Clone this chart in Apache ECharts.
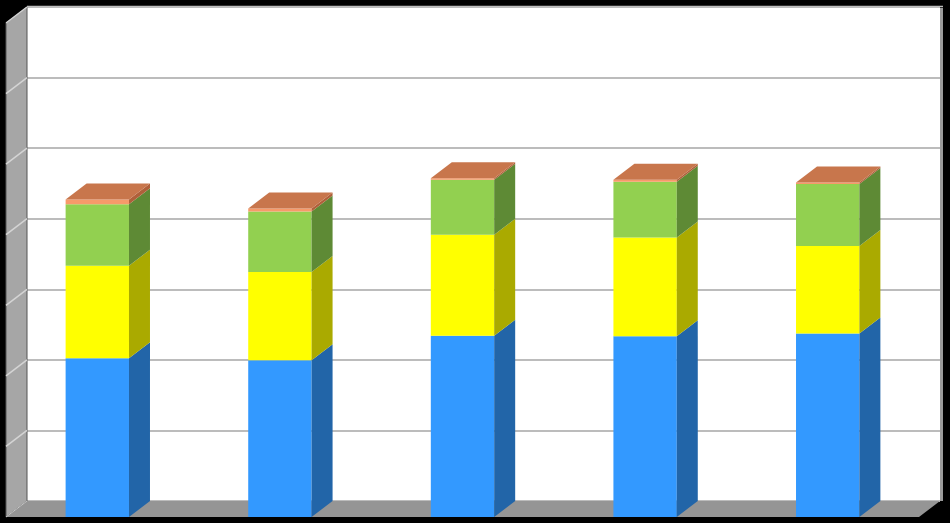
<!DOCTYPE html>
<html>
<head>
<meta charset="utf-8">
<script src="https://cdn.jsdelivr.net/npm/echarts@6/dist/echarts.min.js"></script>
<style>
  html, body { margin: 0; padding: 0; background: #000; }
  #main { width: 950px; height: 523px; }
</style>
</head>
<body>
<div id="main"></div>
<script>
// 数据
const categories = ['1', '2', '3', '4', '5'];
const blueVals = [2.25, 2.22, 2.57, 2.56, 2.60];
const yellowVals = [1.31, 1.25, 1.43, 1.40, 1.24];
const greenVals = [0.87, 0.86, 0.78, 0.79, 0.88];
const orangeVals = [0.07, 0.04, 0.02, 0.03, 0.02];
const yTicks = [0, 1, 2, 3, 4, 5, 6, 7];

// 3D 偏移
const DX = 21, DY = -16;

const layers = [
  { name: 'A', vals: blueVals, front: '#3399ff', side: '#2265a8', top: '#2a80d8' },
  { name: 'B', vals: yellowVals, front: '#ffff00', side: '#aaaa00', top: '#d8d800' },
  { name: 'C', vals: greenVals, front: '#92d050', side: '#5e8a35', top: '#78b040' },
  { name: 'D', vals: orangeVals, front: '#f79a6a', side: '#b0603a', top: '#c8764c' }
];

// 累加求堆叠的底和顶
const base = categories.map(() => 0);
const series = [];
layers.forEach((ly, li) => {
  const data = ly.vals.map((v, i) => {
    const b = base[i];
    base[i] = b + v;
    return [i, b, b + v];
  });
  const isTop = li === layers.length - 1;
  series.push({
    type: 'custom',
    name: ly.name,
    xAxisIndex: 1,
    yAxisIndex: 1,
    z: 3,
    data: data,
    renderItem: (params, api) => {
      const p0 = api.coord([api.value(0), api.value(1)]);
      const p1 = api.coord([api.value(0), api.value(2)]);
      const w = api.size([1, 0])[0] * 0.347;
      const xl = p0[0] - w / 2, xr = p0[0] + w / 2;
      const children = [
        { type: 'rect', shape: { x: xl, y: p1[1], width: w, height: p0[1] - p1[1] }, style: { fill: ly.front } },
        { type: 'polygon', shape: { points: [[xr, p1[1]], [xr + DX, p1[1] + DY], [xr + DX, p0[1] + DY], [xr, p0[1]]] }, style: { fill: ly.side } }
      ];
      if (isTop) {
        children.push({ type: 'polygon', shape: { points: [[xl, p1[1]], [xl + DX, p1[1] + DY], [xr + DX, p1[1] + DY], [xr, p1[1]]] }, style: { fill: ly.top } });
      }
      return { type: 'group', children: children };
    }
  });
});

// 背墙/地板/侧墙
const backL = 27, backR = 940, backT = 7, backB = 501;
const frontL = backL - DX, frontB = backB - DY, frontR = backR - DX;
const step = (backB - backT) / (yTicks.length - 1);
const graphics = [
  { type: 'polygon', z: 1, shape: { points: [[frontL, backT - DY], [backL, backT], [backL, backB], [frontL, frontB]] }, style: { fill: '#a6a6a6', stroke: '#555', lineWidth: 1 } },
  { type: 'polygon', z: 1, shape: { points: [[backL, backB], [backR, backB], [frontR, frontB], [frontL, frontB]] }, style: { fill: '#959595' } },
  { type: 'line', z: 1, shape: { x1: frontL, y1: frontB, x2: backL, y2: backB }, style: { stroke: '#c8c8c8', lineWidth: 1 } },
  { type: 'line', z: 1, shape: { x1: backR + 1.5, y1: backT + 1, x2: backR + 1.5, y2: backB }, style: { stroke: '#9a9a9a', lineWidth: 3 } },
  { type: 'line', z: 1, shape: { x1: backL, y1: backT - 0.5, x2: backR + 3, y2: backT - 0.5 }, style: { stroke: '#bdbdbd', lineWidth: 1.5 } }
];
yTicks.forEach((t, i) => {
  if (i === 0) return;
  const y = backB - step * i;
  graphics.push({ type: 'line', z: 1, shape: { x1: frontL, y1: y - DY, x2: backL, y2: y }, style: { stroke: '#d4d4d4', lineWidth: 1.5 } });
});

const chart = echarts.init(document.getElementById('main'));
const option = {
  backgroundColor: '#000',
  animation: false,
  grid: [
    { left: backL, right: 950 - backR, top: backT, bottom: 523 - backB, show: true, backgroundColor: '#fff', borderWidth: 0 },
    { left: frontL, right: 950 - frontR, top: backT - DY, bottom: 523 - frontB }
  ],
  xAxis: [
    { type: 'category', gridIndex: 0, data: categories, show: false },
    { type: 'category', gridIndex: 1, data: categories, show: false }
  ],
  yAxis: [
    { type: 'value', gridIndex: 0, min: 0, max: 7, interval: 1,
      axisLine: { show: false }, axisTick: { show: false }, axisLabel: { show: false },
      splitLine: { show: true, lineStyle: { color: '#bcbcbc', width: 2 } } },
    { type: 'value', gridIndex: 1, min: 0, max: 7, interval: 1, show: false, splitLine: { show: false } }
  ],
  graphic: graphics,
  series: series
};
chart.setOption(option);
</script>
</body>
</html>
